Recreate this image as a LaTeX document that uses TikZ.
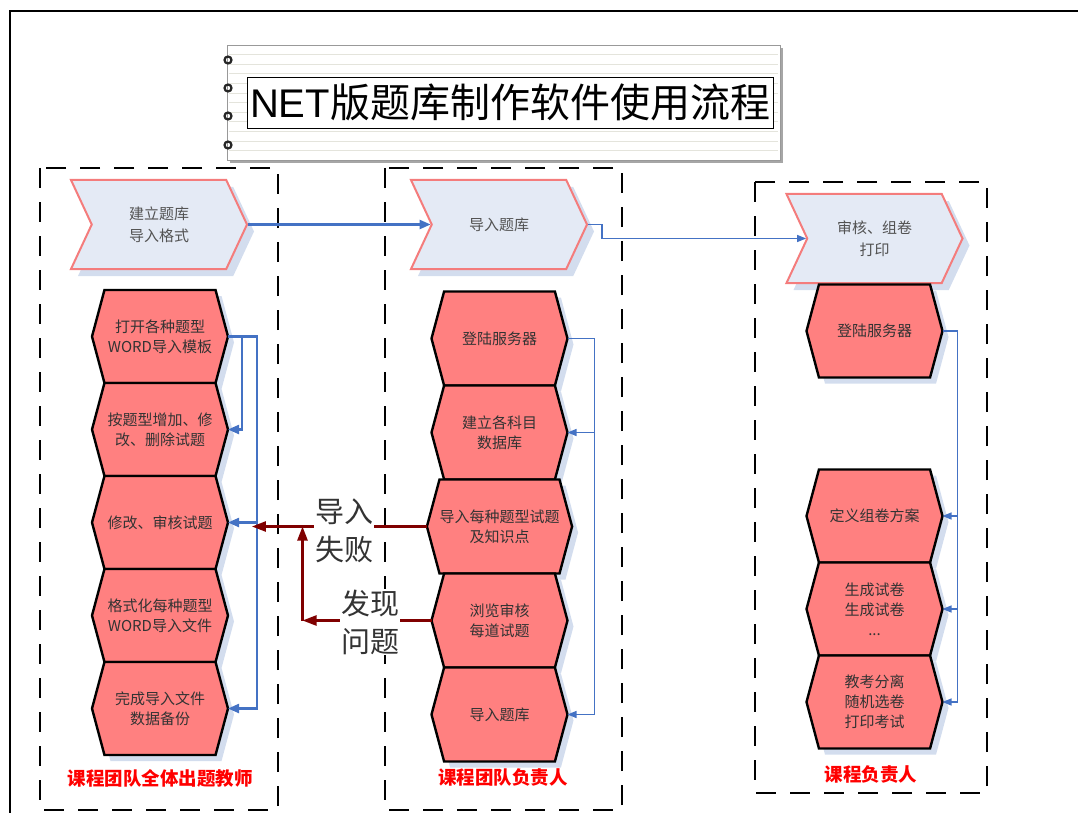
\documentclass[tikz,border=0pt]{standalone}
\usepackage{fontspec}
\setmainfont{Noto Sans CJK SC}
\newfontfamily\latinsans{Liberation Sans}
\usepackage{tikz}
\usetikzlibrary{arrows.meta,positioning,shapes.symbols,shadows}
\definecolor{hexfill}{HTML}{FF8080}
\definecolor{chevfill}{HTML}{E4EAF5}
\definecolor{chevrule}{HTML}{F47C7C}
\definecolor{flowblue}{HTML}{4472C4}
\definecolor{failred}{HTML}{800000}
\definecolor{shadowblue}{HTML}{D3DDEE}
\definecolor{inkSoft}{HTML}{333333}
\definecolor{roleRed}{HTML}{FF0000}
\definecolor{padrule}{HTML}{E4E4DC}

\begin{document}
\begin{tikzpicture}[x=1pt,y=-1pt,
  node distance=0pt,
  hexbox/.style={signal,signal to=east and west,signal pointer angle=150,
              draw=black,fill=hexfill,line width=2.4pt,inner sep=0pt,outer sep=0pt,
              minimum width=136pt,minimum height=93pt,align=center,text=inkSoft,
              font=\fontsize{15}{20}\selectfont,
              drop shadow={shadow xshift=6pt,shadow yshift=-6pt,fill=shadowblue,opacity=1}},
  chev/.style={signal,signal from=west,signal to=east,signal pointer angle=130,
              draw=chevrule,fill=chevfill,line width=2pt,inner sep=0pt,
              minimum width=176pt,minimum height=89pt,align=center,text=inkSoft!85,
              font=\fontsize{15}{22}\selectfont,
              drop shadow={shadow xshift=7pt,shadow yshift=-7pt,fill=shadowblue,opacity=1}},
  flow/.style={-{Triangle[length=11pt,width=9pt]},draw=flowblue,line width=2.2pt},
  flowthin/.style={-{Triangle[length=9pt,width=7pt]},draw=flowblue,line width=1.3pt},
  failarr/.style={-{Triangle[length=14pt,width=10pt]},draw=failred,line width=2.4pt},
  lane/.style={draw=black,line width=2.6pt,dash pattern=on 20pt off 14pt},
  biglbl/.style={fill=white,inner sep=1pt,align=center,text=inkSoft,
              font=\fontsize{29}{38}\selectfont},
  role/.style={text=roleRed,font=\bfseries\fontsize{18.5}{20}\selectfont}]
  \useasboundingbox (0,0) rectangle (1078,813);
  \draw[line width=2pt] (10,813) -- (10,11) -- (1078,11);

  % title pad
  \node[draw=gray!80,fill=white,line width=0.8pt,minimum width=553pt,minimum height=115pt,
        drop shadow={shadow xshift=3pt,shadow yshift=-3pt,fill=gray!70,opacity=1}]
        (pad) at (503.5,102.5) {};
  \foreach \k in {1,...,11}
    \draw[padrule,line width=0.8pt] (229,{45+9.6*\k}) -- (778,{45+9.6*\k});
  \foreach \y in {60,88,116,145}
    \draw[line width=2.2pt,draw=black!85] (228,\y) circle (3.5pt);
  \node[draw=black,fill=white,line width=0.8pt,minimum width=526pt,minimum height=51pt,
        inner sep=0pt,font=\fontsize{40}{40}\selectfont]
        (title) at (510,102.5) {{\latinsans NET}版题库制作软件使用流程};

  % swim lanes
  \draw[lane] (40,168) rectangle (278,810);
  \draw[lane] (385,168) rectangle (622,810);
  \draw[lane] (755,182) rectangle (987,793);

  % teachers
  \node[chev] (setup) at (159,224.5) {建立题库\\导入格式};
  \node[hexbox] (tplopen) at (160,336.5) {打开各种题型\\WORD导入模板};
  \node[hexbox,below=of tplopen] (tpledit) {按题型增加、修\\改、删除试题};
  \node[hexbox,below=of tpledit] (revise) {修改、审核试题};
  \node[hexbox,below=of revise] (format) {格式化每种题型\\WORD导入文件};
  \node[hexbox,below=of format] (backup) {完成导入文件\\数据备份};
  \node[role] (teachers) at (160,778) {课程团队全体出题教师};

  % team leader
  \node[chev] (import) at (499,224.5) {导入题库};
  \node[hexbox,minimum height=94pt] (login) at (499.5,338.5) {登陆服务器};
  \node[hexbox,minimum height=94pt,below=of login] (subjdb) {建立各科目\\数据库};
  \node[hexbox,minimum height=94pt,below=of subjdb] (qimport) {导入每种题型试题\\及知识点};
  \node[hexbox,minimum height=94pt,below=of qimport] (browse) {浏览审核\\每道试题};
  \node[hexbox,minimum height=94pt,below=of browse] (bankin) {导入题库};
  \node[role] (leader) at (503,778) {课程团队负责人};

  % course owner
  \node[chev] (assemble) at (874.5,238.5) {审核、组卷\\打印};
  \node[hexbox] (rlogin) at (874.5,331) {登陆服务器};
  \node[hexbox] (scheme) at (874.5,516) {定义组卷方案};
  \node[hexbox,below=of scheme] (genpaper) {生成试卷\\生成试卷\\...};
  \node[hexbox,below=of genpaper] (printexam) {教考分离\\随机选卷\\打印考试};
  \node[role] (owner) at (871,775) {课程负责人};

  \draw[flow] (setup.east) -- (import.west);
  \draw[flowthin] (import.east) -- ++(14,0) |- (assemble.west);

  \draw[flow] (tplopen.east) -- ++(14,0) |- (tpledit.east);
  \draw[flow] (tplopen.east) -- ++(29,0) |- (revise.east);
  \draw[flow] (tplopen.east) -- ++(29,0) |- (backup.east);

  \draw[flowthin] (login.east) -- ++(27,0) |- (subjdb.east);
  \draw[flowthin] (login.east) -- ++(27,0) |- (bankin.east);

  \draw[flowthin] (rlogin.east) -- ++(15,0) |- (scheme.east);
  \draw[flowthin] (rlogin.east) -- ++(15,0) |- (genpaper.east);
  \draw[flowthin] (rlogin.east) -- ++(15,0) |- (printexam.east);

  % way back
  \path (qimport.west) ++(-175,0) coordinate (failtip);
  \path (browse.west) ++(-129,0) coordinate (probturn);
  \draw[failarr] (qimport.west) -- (failtip);
  \draw[failarr] (browse.west) -- (probturn);
  \draw[failarr] (probturn) -- (probturn |- qimport.west);
  \node[biglbl] (failnote) at (344,531) {导入\\失败};
  \node[biglbl] (probnote) at (370,622) {发现\\问题};
\end{tikzpicture}
\end{document}
